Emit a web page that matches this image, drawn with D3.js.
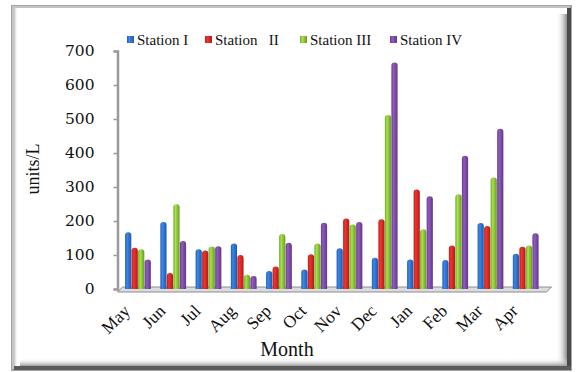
<!DOCTYPE html>
<html>
<head>
<meta charset="utf-8">
<script src="https://cdn.jsdelivr.net/npm/d3@7"></script>
<style>
  html, body { margin: 0; padding: 0; background: #fff; }
  svg { display: block; }
</style>
</head>
<body>
<svg id="chart" width="577" height="372"></svg>
<script>
// Monthly readings (units/L) at four stations, May through April
const months = ["May", "Jun", "Jul", "Aug", "Sep", "Oct", "Nov", "Dec", "Jan", "Feb", "Mar", "Apr"];
const stations = ["Station I", "Station   II", "Station III", "Station IV"];
const stationI   = [167, 197, 117, 134, 53, 57, 120, 92, 87, 85, 194, 104];
const stationII  = [121, 47, 113, 100, 66, 102, 207, 205, 293, 128, 185, 124];
const stationIII = [117, 249, 125, 42, 162, 134, 190, 512, 176, 279, 328, 128];
const stationIV  = [87, 141, 126, 38, 136, 195, 197, 666, 273, 392, 471, 164];
const yTicks = [0, 100, 200, 300, 400, 500, 600, 700];
const colors = ["#2f72cf", "#d42a25", "#8cc43a", "#7c4ca6"];

const series = [stationI, stationII, stationIII, stationIV];
const SERIF = "'Liberation Serif', 'Times New Roman', serif";

const svg = d3.select("#chart");
const defs = svg.append("defs");

// Frame with raised border and soft shadow on the right and bottom
svg.append("rect").attr("x", 11).attr("y", 5).attr("width", 561).attr("height", 366).attr("fill", "#a4a4a4");
svg.append("rect").attr("x", 12).attr("y", 6).attr("width", 558).attr("height", 363).attr("fill", "#c4c4c4");
svg.append("rect").attr("x", 14).attr("y", 8).attr("width", 553).attr("height", 358).attr("fill", "#fff");
svg.append("rect").attr("x", 567).attr("y", 8).attr("width", 4).attr("height", 362).attr("fill", "#4a4a4a");
svg.append("rect").attr("x", 14).attr("y", 366).attr("width", 557).attr("height", 4).attr("fill", "#5a5a5a");

const gR = defs.append("linearGradient").attr("id", "shadeR").attr("x1", 0).attr("x2", 1).attr("y1", 0).attr("y2", 0);
gR.append("stop").attr("offset", 0).attr("stop-color", "#fff").attr("stop-opacity", 0);
gR.append("stop").attr("offset", 1).attr("stop-color", "#8a8a8a");
const gB = defs.append("linearGradient").attr("id", "shadeB").attr("x1", 0).attr("x2", 0).attr("y1", 0).attr("y2", 1);
gB.append("stop").attr("offset", 0).attr("stop-color", "#fff").attr("stop-opacity", 0);
gB.append("stop").attr("offset", 1).attr("stop-color", "#9a9a9a");
const gL = defs.append("linearGradient").attr("id", "shadeL").attr("x1", 0).attr("x2", 1).attr("y1", 0).attr("y2", 0);
gL.append("stop").attr("offset", 0).attr("stop-color", "#bdbdbd");
gL.append("stop").attr("offset", 1).attr("stop-color", "#fff").attr("stop-opacity", 0);
svg.append("rect").attr("x", 556).attr("y", 14).attr("width", 11).attr("height", 352).attr("fill", "url(#shadeR)");
svg.append("rect").attr("x", 20).attr("y", 358).attr("width", 547).attr("height", 8).attr("fill", "url(#shadeB)");
svg.append("rect").attr("x", 14).attr("y", 8).attr("width", 4).attr("height", 358).attr("fill", "url(#shadeL)");

// Scales
const x0 = d3.scaleBand().domain(months).range([120.5, 543.5]).paddingInner(0.26).paddingOuter(0.13);
const x1 = d3.scaleBand().domain(d3.range(4)).range([0, x0.bandwidth()]);
const y = d3.scaleLinear().domain([0, 700]).range([289, 51]);

// Cylinder-like shading for each series
colors.forEach((c, i) => {
  const g = defs.append("linearGradient").attr("id", "bar" + i).attr("x1", 0).attr("x2", 1).attr("y1", 0).attr("y2", 0);
  const base = d3.color(c);
  g.append("stop").attr("offset", 0).attr("stop-color", base.darker(0.5));
  g.append("stop").attr("offset", 0.35).attr("stop-color", base.brighter(0.45));
  g.append("stop").attr("offset", 0.6).attr("stop-color", base);
  g.append("stop").attr("offset", 1).attr("stop-color", base.darker(0.7));
});

// Floor slab under the bars
const floorL = x0.range()[0] - 3, floorR = x0.range()[1] + 5;
svg.append("path")
  .attr("d", `M${floorL},${y(0) + 3} L${floorL + 5},${y(0) - 2} L${floorR + 3},${y(0) - 2} L${floorR - 2},${y(0) + 3} Z`)
  .attr("fill", "#dcdcdc").attr("stroke", "#8c8c8c").attr("stroke-width", 1);

// Bars with rounded tops
function barPath(x, top, w, bottom) {
  const r = Math.min(w / 2, 3, (bottom - top) / 2);
  const p = d3.path();
  p.moveTo(x, bottom);
  p.lineTo(x, top + r);
  p.quadraticCurveTo(x, top, x + r, top);
  p.lineTo(x + w - r, top);
  p.quadraticCurveTo(x + w, top, x + w, top + r);
  p.lineTo(x + w, bottom);
  p.closePath();
  return p.toString();
}

const groups = svg.append("g").selectAll("g")
  .data(months)
  .join("g")
  .attr("transform", d => `translate(${x0(d)},0)`);

groups.selectAll("path")
  .data((m, mi) => series.map((s, si) => ({ si, v: s[mi] })))
  .join("path")
  .attr("d", d => barPath(x1(d.si), y(d.v), x1.bandwidth() - 0.3, y(0)))
  .attr("fill", d => `url(#bar${d.si})`);

// Y axis
const yAxis = d3.axisLeft(y).tickValues(yTicks).tickSize(4).tickPadding(19);
const ya = svg.append("g").attr("transform", `translate(${x0.range()[0] - 3},0)`).call(yAxis);
ya.select(".domain").attr("stroke", "#9a9a9a").attr("stroke-width", 2.5);
ya.selectAll(".tick line").attr("stroke", "#9a9a9a").attr("stroke-width", 1.5);
ya.selectAll(".tick text")
  .style("font-family", "'DejaVu Serif', serif").style("font-size", "15.5px").attr("fill", "#111");

// X axis labels (rotated)
svg.append("g").selectAll("text")
  .data(months)
  .join("text")
  .attr("transform", d => `translate(${x0(d) + x0.bandwidth() / 2 - 7},${y(0) + 23}) rotate(-45)`)
  .attr("text-anchor", "end")
  .style("font-family", SERIF).style("font-size", "17.5px")
  .attr("fill", "#111")
  .text(d => d);

// Axis titles
svg.append("text")
  .attr("x", 287).attr("y", 356)
  .attr("text-anchor", "middle")
  .style("font-family", SERIF).style("font-size", "20px")
  .attr("fill", "#111")
  .text("Month");
svg.append("text")
  .attr("transform", "translate(39,169) rotate(-90)")
  .attr("text-anchor", "middle")
  .style("font-family", SERIF).style("font-size", "18px")
  .attr("fill", "#111")
  .text("units/L");

// Legend
const legendX = [127, 205, 300, 390];
const legend = svg.append("g").selectAll("g")
  .data(stations)
  .join("g")
  .attr("transform", (d, i) => `translate(${legendX[i]},40)`);
legend.append("rect")
  .attr("x", 0).attr("y", -4).attr("width", 7).attr("height", 7)
  .attr("fill", (d, i) => `url(#bar${i})`);
legend.append("text")
  .attr("x", 10).attr("y", 5)
  .style("font-family", SERIF).style("font-size", "15px")
  .style("white-space", "pre")
  .attr("fill", "#111")
  .text(d => d);
</script>
</body>
</html>
